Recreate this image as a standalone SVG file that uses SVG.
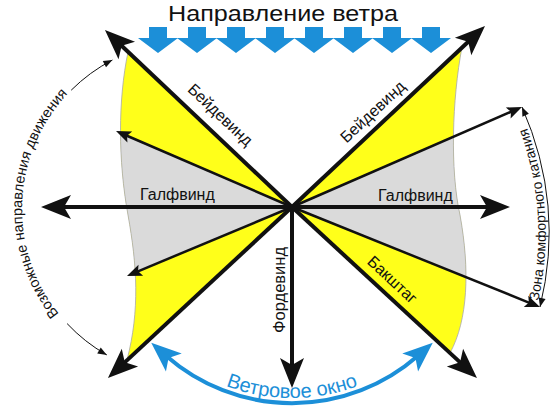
<svg xmlns="http://www.w3.org/2000/svg" width="550" height="409" viewBox="0 0 550 409">
<style>
.t{font-family:"Liberation Sans",Arial,sans-serif;fill:#111}
.thick{stroke:#111;stroke-width:4;fill:none;marker-end:url(#big)}
.thin{stroke:#111;stroke-width:2.5;fill:none;marker-end:url(#mid)}
.arc{stroke:#111;stroke-width:1;fill:none}
.yel{fill:#ffff1a}
.gry{fill:#dadada}
.edge{fill:none;stroke:#a8a8a8;stroke-width:0.8}
.wind{fill:#1c8fd8}
</style>
<defs>
<marker id="big" markerUnits="userSpaceOnUse" orient="auto" viewBox="-12 -14 34 28" markerWidth="34" markerHeight="28" refX="0" refY="0"><path d="M20,0 L-10,-12 L-3,0 L-10,12 Z" fill="#111"/></marker>
<marker id="blue" markerUnits="userSpaceOnUse" orient="auto-start-reverse" viewBox="-12 -14 34 28" markerWidth="34" markerHeight="28" refX="0" refY="0"><path d="M20,0 L-10,-12 L-3,0 L-10,12 Z" fill="#1c8fd8"/></marker>
<marker id="mid" markerUnits="userSpaceOnUse" orient="auto" viewBox="-6 -7 17 14" markerWidth="17" markerHeight="14" refX="0" refY="0"><path d="M10,0 L-5,-6 L-2,0 L-5,6 Z" fill="#111"/></marker>
<marker id="tiny" markerUnits="userSpaceOnUse" orient="auto-start-reverse" viewBox="-10 -5 11 10" markerWidth="11" markerHeight="10" refX="0" refY="0"><path d="M0,0 L-9,-3.5 L-9,3.5 Z" fill="#111"/></marker>
<clipPath id="clipL"><path d="M292,207 L128,52 C118,100 118,160 128,215 C137,265 140,310 127,360 Z"/></clipPath>
<clipPath id="clipR"><path d="M292,207 L462,47 C452,100 450,170 460,215 C470,270 468,320 450,353 Z"/></clipPath>
<path id="wa" d="M-9,27 L9,27 L9,38 L20,38 L0,53 L-20,38 L-9,38 Z"/>
<path id="pathWin" d="M130.9,305 A186,186 0 0 0 453.1,305"/>
<path id="pathPos" d="M106.8,354.9 A168,168 0 0 1 112.4,60"/>
<path id="pathZone" d="M537,306 Q561,205 519,108"/>
</defs>
<rect width="550" height="409" fill="#fff"/>

<g id="title">
<text class="t" x="283" y="21" font-size="22.5" text-anchor="middle" textLength="230" lengthAdjust="spacingAndGlyphs">Направление ветра</text>
</g>

<g id="wind-arrows" class="wind">
<use href="#wa" x="158"/><use href="#wa" x="197"/><use href="#wa" x="236"/><use href="#wa" x="275"/>
<use href="#wa" x="314"/><use href="#wa" x="353"/><use href="#wa" x="392"/><use href="#wa" x="431"/>
</g>

<g id="sector-left">
<path class="yel" d="M292,207 L128,52 C118,100 118,160 128,215 C137,265 140,310 127,360 Z"/>
<polygon class="gry" points="292,207 0,81 0,329" clip-path="url(#clipL)"/>
<path class="edge" d="M128,52 C118,100 118,160 128,215 C137,265 140,310 127,360"/>
</g>
<g id="sector-right">
<path class="yel" d="M292,207 L462,47 C452,100 450,170 460,215 C470,270 468,320 450,353 Z"/>
<polygon class="gry" points="292,207 550,95 550,311" clip-path="url(#clipR)"/>
<path class="edge" d="M462,47 C452,100 450,170 460,215 C470,270 468,320 450,353"/>
</g>

<g id="connectors">
<line class="thin" x1="292" y1="207" x2="125.2" y2="135"/>
<line class="thin" x1="292" y1="207" x2="136.2" y2="272.1"/>
<line class="thin" x1="292" y1="207" x2="512.8" y2="111"/>
<line class="thin" x1="292" y1="207" x2="530.7" y2="303.3"/>
<line class="thick" x1="292" y1="207" x2="119.5" y2="43.7"/>
<line class="thick" x1="292" y1="207" x2="470.4" y2="39.7"/>
<line class="thick" x1="292" y1="207" x2="61" y2="207"/>
<line class="thick" x1="292" y1="207" x2="490" y2="207"/>
<line class="thick" x1="292" y1="205" x2="292" y2="368"/>
<line class="thick" x1="292" y1="207" x2="122.6" y2="364.4"/>
<line class="thick" x1="292" y1="207" x2="462.3" y2="364.4"/>
<path d="M166.3,356 A191,191 0 0 0 417.7,356" fill="none" stroke="#1c8fd8" stroke-width="4" marker-start="url(#blue)" marker-end="url(#blue)"/>
<path class="arc" d="M71.2,90.2 A168,168 0 0 1 112.4,60" marker-end="url(#tiny)"/>
<path class="arc" d="M67.1,323.6 A168,168 0 0 0 106.8,354.9" marker-end="url(#tiny)"/>
<path class="arc" d="M522,107 Q565,205 540,307" marker-start="url(#tiny)" marker-end="url(#tiny)"/>
</g>

<g id="label-beydewind-left"><text class="t" font-size="16" text-anchor="middle" transform="translate(220,115) rotate(43.4)" dy="5">Бейдевинд</text></g>
<g id="label-beydewind-right"><text class="t" font-size="16" text-anchor="middle" transform="translate(373,112) rotate(-43.2)" dy="5">Бейдевинд</text></g>
<g id="label-galfwind-left"><text class="t" font-size="16" x="140" y="200">Галфвинд</text></g>
<g id="label-galfwind-right"><text class="t" font-size="16" x="378" y="201">Галфвинд</text></g>
<g id="label-fordewind"><text class="t" font-size="16.5" text-anchor="middle" transform="translate(285,290) rotate(-90)">Фордевинд</text></g>
<g id="label-bakshtag"><text class="t" font-size="16" text-anchor="middle" transform="translate(392,280) rotate(43)" dy="5">Бакштаг</text></g>
<g id="label-window"><text font-family="Liberation Sans, Arial, sans-serif" font-size="20" fill="#1c8fd8"><textPath href="#pathWin" startOffset="50%" text-anchor="middle">Ветровое окно</textPath></text></g>
<g id="label-possible"><text class="t" font-size="14.5"><textPath href="#pathPos" startOffset="51%" text-anchor="middle">Возможные направления движения</textPath></text></g>
<g id="label-zone"><text class="t" font-size="14"><textPath href="#pathZone" startOffset="46%" text-anchor="middle">Зона комфортного катания</textPath></text></g>
</svg>
